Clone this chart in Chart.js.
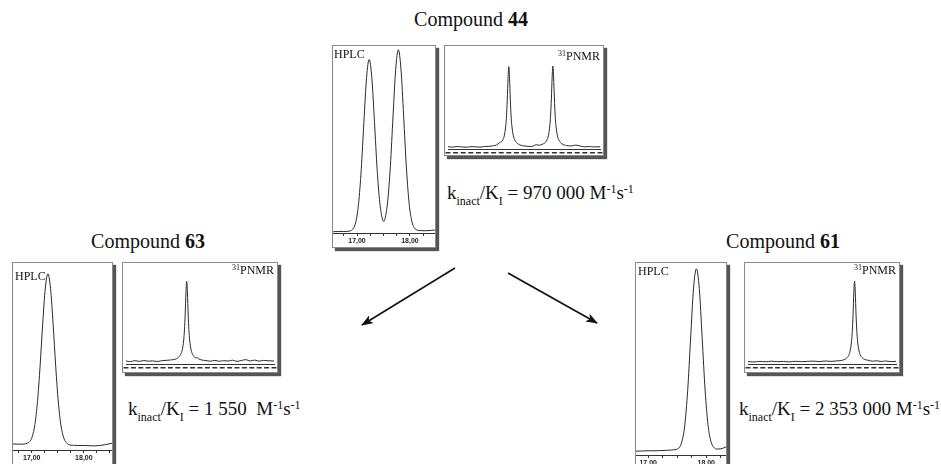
<!DOCTYPE html>
<html>
<head>
<meta charset="utf-8">
<script src="https://cdn.jsdelivr.net/npm/chart.js@4/dist/chart.umd.min.js"></script>
<style>
    body { margin: 0; width: 941px; height: 464px; overflow: hidden; background: #fff; position: relative; font-family: 'Liberation Serif', serif; color: #111; }
    .panel { position: absolute; border: 1px solid #8a8a8a; background: #fff; box-shadow: 3px 3px 1px #555; }
    .panel canvas { position: absolute; left: 0; top: 0; }
    .tag { position: absolute; font-size: 12px; line-height: 12px; white-space: nowrap; }
    .tag .s { font-size: 8px; position: relative; top: -4px; }
    .txt { position: absolute; white-space: nowrap; font-size: 19px; line-height: 19px; }
    .title { position: absolute; white-space: nowrap; font-size: 20px; line-height: 20px; transform: translateX(-50%); }
    .sub { font-size: 12px; position: relative; top: 6px; }
    .sup { font-size: 12px; position: relative; top: -6px; }
</style>
</head>
<body>

<!-- ==================== ДАННЫЕ ==================== -->
<script>
// HPLC, время удерживания (мин) / отклик (%)
const hplc44X = [16.55, 16.65, 16.75, 16.83, 16.88, 16.93, 16.98, 17.03, 17.08, 17.13, 17.18, 17.23, 17.28, 17.33, 17.38, 17.43, 17.48, 17.505, 17.53, 17.58, 17.63, 17.68, 17.73, 17.78, 17.83, 17.88, 17.93, 17.98, 18.03, 18.08, 18.13, 18.2, 18.3, 18.4, 18.47];
const hplc44Y = [0.7, 0.8, 0.8, 0.9, 1.2, 2.4, 6.2, 15.8, 33.9, 59.2, 83.0, 92.8, 83.0, 59.2, 34.0, 16.2, 7.5, 6.2, 7.8, 17.1, 35.9, 62.5, 87.5, 98.0, 87.6, 62.7, 36.0, 16.9, 6.8, 2.8, 1.6, 1.3, 1.2, 1.4, 1.6];

const hplc63X = [16.64, 16.75, 16.85, 16.91, 16.96, 17.01, 17.06, 17.11, 17.16, 17.21, 17.26, 17.31, 17.36, 17.41, 17.46, 17.51, 17.56, 17.61, 17.66, 17.71, 17.8, 17.9, 18.0, 18.1, 18.2, 18.3, 18.4, 18.54];
const hplc63Y = [3.2, 3.1, 3.2, 3.6, 4.5, 7.2, 13.6, 25.9, 44.9, 67.5, 86.6, 94.2, 86.5, 67.3, 44.6, 25.6, 13.2, 6.8, 4.1, 2.9, 2.5, 2.4, 2.4, 2.3, 2.2, 2.4, 2.8, 3.6];

const hplc61X = [16.79, 16.9, 17.0, 17.1, 17.2, 17.3, 17.4, 17.48, 17.53, 17.58, 17.63, 17.68, 17.73, 17.78, 17.83, 17.88, 17.93, 17.98, 18.03, 18.08, 18.13, 18.18, 18.25, 18.34];
const hplc61Y = [2.0, 2.1, 2.2, 2.2, 2.3, 2.4, 2.6, 2.9, 3.7, 6.9, 15.5, 33.6, 60.4, 86.5, 97.0, 86.8, 60.7, 33.9, 15.8, 7.1, 4.0, 3.1, 3.2, 4.2];

// Подписи делений HPLC
const hplcTicksComma = ['17,00', '18,00'];
const hplcTicksDot = ['17.00', '18.00'];

// 31P NMR, условная шкала 0..100 / интенсивность (%)
const nmr44X = [0, 3, 6, 9, 12, 15, 18, 21, 24, 27, 30, 32, 34, 35, 36, 37, 38, 38.5, 39, 39.5, 40, 40.5, 41, 41.5, 42, 43, 44, 46, 48, 50, 52, 54, 56, 58, 60, 62, 63, 64, 65, 66, 67, 67.5, 68, 68.5, 69, 69.5, 70, 70.5, 71, 72, 73, 75, 78, 81, 84, 87, 90, 93, 96, 100];
const nmr44Y = [2.2, 1.8, 2.4, 2.0, 1.7, 2.3, 2.1, 1.8, 2.4, 2.6, 3.2, 4.0, 6.2, 7.0, 8.6, 12.8, 22.7, 32.4, 48.0, 68.5, 80.0, 68.5, 48.0, 32.4, 22.7, 12.8, 8.5, 5.0, 3.6, 3.0, 2.6, 2.4, 2.8, 4.2, 3.6, 4.6, 5.2, 6.2, 8.5, 12.8, 22.9, 32.6, 48.5, 69.0, 80.5, 69.0, 48.5, 32.6, 22.9, 12.8, 8.5, 5.0, 3.4, 3.0, 3.8, 2.9, 2.1, 2.4, 2.0, 2.2];

const nmr63X = [0, 3, 6, 9, 12, 15, 18, 21, 24, 27, 30, 33, 35, 36, 37, 38, 39, 39.5, 40, 40.5, 41, 41.5, 42, 42.5, 43, 44, 45, 46, 47, 48, 49, 51, 54, 57, 60, 63, 66, 69, 72, 75, 78, 81, 84, 87, 90, 93, 96, 100];
const nmr63Y = [3.0, 2.4, 3.3, 2.6, 3.4, 2.8, 3.1, 2.5, 3.2, 3.6, 4.0, 4.6, 6.0, 7.3, 9.6, 13.9, 23.9, 33.8, 49.6, 70.3, 82.0, 70.3, 49.6, 33.8, 23.9, 13.9, 9.6, 7.3, 6.0, 6.4, 5.2, 4.0, 3.4, 2.8, 3.6, 2.7, 3.3, 2.9, 3.8, 2.6, 3.5, 4.3, 3.0, 3.9, 2.8, 3.6, 3.2, 3.0];

const nmr61X = [0, 4, 8, 12, 16, 20, 24, 28, 32, 36, 40, 44, 48, 52, 56, 60, 63, 65, 66, 67, 68, 69, 70, 70.5, 71, 71.5, 72, 72.5, 73, 73.5, 74, 75, 76, 77, 79, 81, 84, 87, 90, 93, 96, 100];
const nmr61Y = [2.4, 2.0, 2.6, 2.2, 2.8, 2.3, 2.5, 2.1, 2.7, 2.3, 2.6, 2.9, 2.4, 3.0, 2.6, 3.1, 3.4, 4.3, 5.1, 6.4, 8.6, 13.0, 23.2, 33.2, 49.2, 70.2, 82.0, 70.2, 49.2, 33.2, 23.2, 13.0, 8.6, 6.4, 4.4, 3.8, 2.8, 3.2, 2.5, 3.0, 2.4, 2.6];
</script>

<!-- ==================== ПАНЕЛИ ==================== -->
<div class="title" style="left:471px; top:9px;">Compound <b>44</b></div>
<div class="title" style="left:148px; top:231px;">Compound <b>63</b></div>
<div class="title" style="left:783px; top:231px;">Compound <b>61</b></div>

<div class="panel" style="left:332px; top:45px; width:102px; height:201px;">
    <canvas id="h44" width="102" height="201"></canvas>
    <span class="tag" style="left:1px; top:2px;">HPLC</span>
</div>
<div class="panel" style="left:444px; top:45px; width:158px; height:109px;">
    <canvas id="n44" width="158" height="109"></canvas>
    <span class="tag" style="right:3px; top:4px;"><span class="s">31</span>PNMR</span>
</div>

<div class="panel" style="left:12px; top:262px; width:99px; height:203px;">
    <canvas id="h63" width="99" height="203"></canvas>
    <span class="tag" style="left:2px; top:7px;">HPLC</span>
</div>
<div class="panel" style="left:122px; top:262px; width:154px; height:109px;">
    <canvas id="n63" width="154" height="109"></canvas>
    <span class="tag" style="right:3px; top:1px;"><span class="s">31</span>PNMR</span>
</div>

<div class="panel" style="left:635px; top:262px; width:90px; height:208px;">
    <canvas id="h61" width="90" height="208"></canvas>
    <span class="tag" style="left:2px; top:2px;">HPLC</span>
</div>
<div class="panel" style="left:744px; top:262px; width:154px; height:109px;">
    <canvas id="n61" width="154" height="109"></canvas>
    <span class="tag" style="right:3px; top:1px;"><span class="s">31</span>PNMR</span>
</div>

<div class="txt" style="left:447px; top:183px;">k<span class="sub">inact</span>/K<span class="sub">I</span> = 970 000 M<span class="sup">-1</span>s<span class="sup">-1</span></div>
<div class="txt" style="left:128px; top:399px;">k<span class="sub">inact</span>/K<span class="sub">I</span> = 1 550 &nbsp;M<span class="sup">-1</span>s<span class="sup">-1</span></div>
<div class="txt" style="left:739px; top:399px;">k<span class="sub">inact</span>/K<span class="sub">I</span> = 2 353 000 M<span class="sup">-1</span>s<span class="sup">-1</span></div>

<svg width="941" height="464" style="position:absolute; left:0; top:0; pointer-events:none;">
    <defs>
        <marker id="ah" markerWidth="12" markerHeight="9" refX="11" refY="4.5" orient="auto" markerUnits="userSpaceOnUse">
            <path d="M0,0 L12,4.5 L0,9 L3,4.5 z" fill="#111"/>
        </marker>
    </defs>
    <line x1="455" y1="268" x2="362" y2="325" stroke="#111" stroke-width="1.6" marker-end="url(#ah)"/>
    <line x1="508" y1="273" x2="597" y2="323" stroke="#111" stroke-width="1.6" marker-end="url(#ah)"/>
</svg>

<script>
// ==================== ГРАФИКИ ====================

function toPoints(xs, ys) {
    return xs.map((x, i) => ({ x: x, y: ys[i] }));
}

// пунктирная строка под осью ЯМР (как подписи шкалы ppm)
const nmrDashes = {
    id: 'nmrDashes',
    afterDraw(chart) {
        const sx = chart.scales.x;
        const ctx = chart.ctx;
        ctx.save();
        ctx.fillStyle = '#333';
        sx.ticks.forEach(t => {
            const px = sx.getPixelForValue(t.value);
            ctx.fillRect(px - 2.5, sx.top + 3, 5, 1.5);
        });
        ctx.restore();
    }
};

function baseOptions() {
    return {
        responsive: false,
        animation: false,
        events: [],
        plugins: { legend: { display: false }, tooltip: { enabled: false } },
        elements: { point: { radius: 0 } }
    };
}

function createHplc(id, xs, ys, min, max, axisH, labels) {
    const opts = baseOptions();
    opts.layout = { padding: 0 };
    opts.scales = {
        x: {
            type: 'linear', min: min, max: max,
            afterFit: s => { s.height = axisH; },
            border: { display: true, color: '#333', width: 1 },
            grid: { display: true, drawOnChartArea: false, drawTicks: true, tickLength: 3, color: '#333' },
            ticks: {
                stepSize: 0.25, includeBounds: false, autoSkip: false, maxRotation: 0, padding: 1,
                color: '#222', font: { family: 'Liberation Sans', size: 7, weight: 'bold' },
                callback: v => Number.isInteger(v) ? labels[v - 17] : ''
            }
        },
        y: { display: false, min: 0, max: 100 }
    };
    return new Chart(document.getElementById(id), {
        type: 'line',
        data: { datasets: [{ data: toPoints(xs, ys), borderColor: '#2a2a2a', borderWidth: 1, cubicInterpolationMode: 'monotone', fill: false }] },
        options: opts
    });
}

function createNmr(id, xs, ys, axisH) {
    const opts = baseOptions();
    opts.layout = { padding: { left: 3, right: 3 } };
    opts.scales = {
        x: {
            type: 'linear', min: 0, max: 100,
            afterFit: s => { s.height = axisH; },
            border: { display: true, color: '#333', width: 1 },
            grid: { display: false },
            ticks: { stepSize: 5, display: false }
        },
        y: { display: false, min: 0, max: 100 }
    };
    return new Chart(document.getElementById(id), {
        type: 'line',
        data: { datasets: [{ data: toPoints(xs, ys), borderColor: '#2a2a2a', borderWidth: 1, cubicInterpolationMode: 'monotone', fill: false }] },
        options: opts,
        plugins: [nmrDashes]
    });
}

createHplc('h44', hplc44X, hplc44Y, 16.547, 18.472, 14, hplcTicksComma);
createHplc('h63', hplc63X, hplc63Y, 16.64, 18.54, 16, hplcTicksComma);
createHplc('h61', hplc61X, hplc61Y, 16.79, 18.34, 16, hplcTicksDot);

createNmr('n44', nmr44X, nmr44Y, 6);
createNmr('n63', nmr63X, nmr63Y, 8);
createNmr('n61', nmr61X, nmr61Y, 8);
</script>
</body>
</html>
